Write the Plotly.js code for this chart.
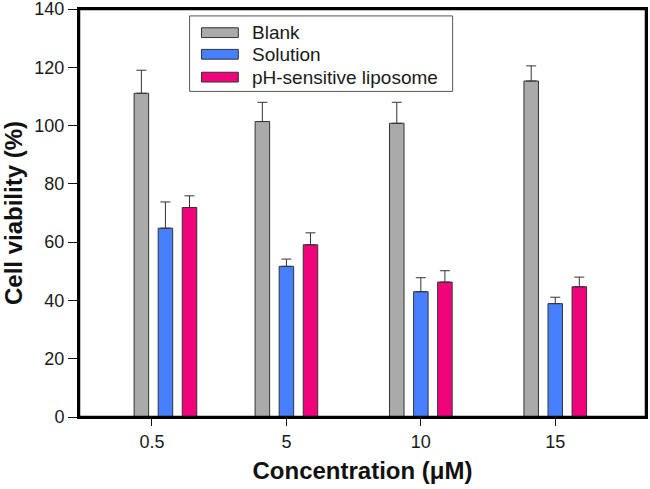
<!DOCTYPE html>
<html>
<head>
<meta charset="utf-8">
<script src="https://cdn.plot.ly/plotly-3.0.1.min.js"></script>
<style>html,body{margin:0;padding:0;background:#fff;overflow:hidden;width:650px;height:489px}#chart{width:650px;height:489px}</style>
</head>
<body>
<div id="chart"></div>
<script>
// Data
const categories = ["0.5", "5", "10", "15"];
const seriesNames = ["Blank", "Solution", "pH-sensitive liposome"];
const blank = [111.1, 101.4, 100.8, 115.3];
const blankErr = [7.9, 6.6, 7.2, 5.2];
const solution = [64.8, 51.7, 43.0, 38.9];
const solutionErr = [9.0, 2.5, 4.8, 2.2];
const liposome = [71.9, 59.1, 46.3, 44.7];
const liposomeErr = [4.0, 4.1, 3.9, 3.3];
const yTicks = [0, 20, 40, 60, 80, 100, 120, 140];

// Layout/style
const tickPos = [0, 1, 2, 3];
const groupPos = [0.1, 1, 2, 3];
const colors = ["#aaaaaa", "#4680ff", "#f0047c"];
const barW = 0.108;
const step = 0.179;
const values = [blank, solution, liposome];
const errs = [blankErr, solutionErr, liposomeErr];
const FONT = "Liberation Sans, Arial, sans-serif";

const traces = seriesNames.map((name, i) => ({
  type: "bar",
  name: name,
  x: groupPos,
  y: values[i],
  width: barW,
  offset: (i - 1) * step - barW / 2,
  marker: {color: colors[i], line: {color: "#333333", width: 1}},
  error_y: {type: "data", array: errs[i], arrayminus: errs[i].map(() => 0), symmetric: false,
            color: "#333333", thickness: 1, width: 5},
  showlegend: false,
  hoverinfo: "none"
}));

// frame + custom legend
const lx0 = 0.195, lx1 = 0.659, ly0 = 0.798, ly1 = 0.983;
const rowY = [0.942, 0.889, 0.833];
const sx0 = 0.216, sx1 = 0.281, sh = 0.012;
const shapes = [
  {type: "rect", xref: "paper", yref: "paper", x0: 0, x1: 1, y0: 0, y1: 1,
   line: {color: "#000000", width: 2.5}, fillcolor: "rgba(0,0,0,0)", layer: "above"},
  {type: "rect", xref: "paper", yref: "paper", x0: lx0, x1: lx1, y0: ly0, y1: ly1,
   line: {color: "#555555", width: 1}, fillcolor: "rgba(255,255,255,1)", layer: "above"}
];
const annotations = [];
seriesNames.forEach((n, i) => {
  shapes.push({type: "rect", xref: "paper", yref: "paper", x0: sx0, x1: sx1, y0: rowY[i] - sh, y1: rowY[i] + sh,
    line: {color: "#333333", width: 1}, fillcolor: colors[i], layer: "above"});
  annotations.push({xref: "paper", yref: "paper", x: 0.302, y: rowY[i], xanchor: "left", yanchor: "middle",
    text: n, showarrow: false, font: {family: FONT, size: 19, color: "#1a1a1a"}});
});

const layout = {
  width: 650, height: 489,
  margin: {l: 79, r: 4, t: 9, b: 72},
  paper_bgcolor: "#ffffff", plot_bgcolor: "#ffffff",
  barmode: "overlay",
  font: {family: FONT, color: "#1a1a1a"},
  xaxis: {
    range: [-0.543, 3.675], tickvals: tickPos, ticktext: categories,
    showgrid: false, zeroline: false, showline: true, mirror: true, linecolor: "#000000", linewidth: 2,
    ticks: "outside", ticklen: 7, tickwidth: 1, tickcolor: "#111111",
    tickfont: {family: FONT, size: 18, color: "#1a1a1a"},
    title: {text: "Concentration (μM)", font: {family: FONT, size: 24, color: "#111111", weight: "bold"}, standoff: 12},
    automargin: false
  },
  yaxis: {
    range: [0, 140.02], tickvals: yTicks, ticklabeloverflow: "allow",
    showgrid: false, zeroline: false, showline: true, mirror: true, linecolor: "#000000", linewidth: 2,
    ticks: "outside", ticklen: 9, tickwidth: 1, tickcolor: "#111111",
    tickfont: {family: FONT, size: 18, color: "#1a1a1a"},
    title: {text: "Cell viability (%)", font: {family: FONT, size: 24, color: "#111111", weight: "bold"}, standoff: 10},
    automargin: false
  },
  shapes: shapes,
  annotations: annotations
};

Plotly.newPlot("chart", traces, layout, {displayModeBar: false, staticPlot: true});
</script>
</body>
</html>
